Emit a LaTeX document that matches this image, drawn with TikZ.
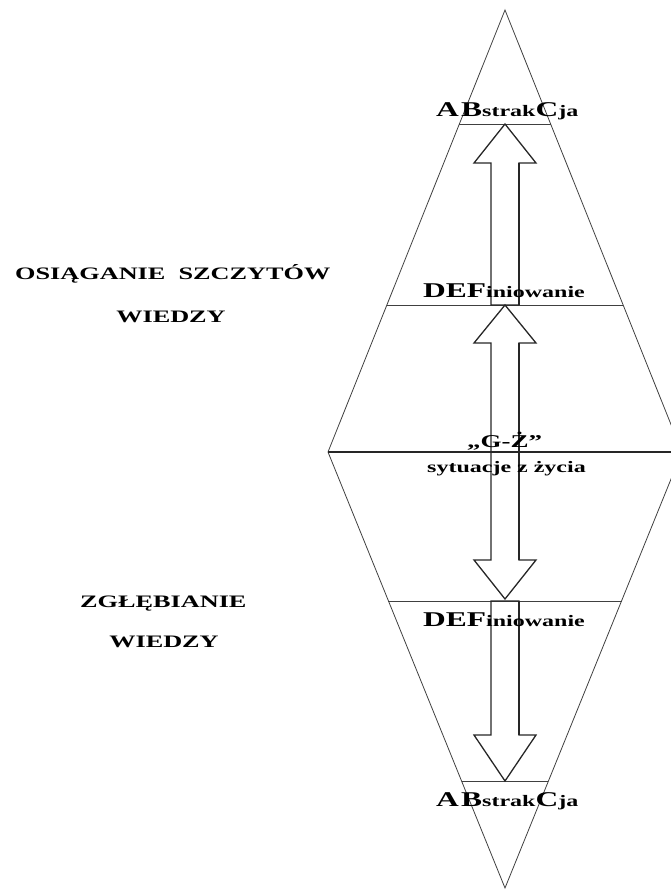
\documentclass[tikz,border=0pt]{standalone}
\usepackage{fontspec}
\setmainfont{Liberation Serif}
\usepackage{graphicx}
\usetikzlibrary{calc}
\newcommand\wide[1]{\scalebox{1.5}[1]{#1}}
\newcommand\fsz[1]{\fontsize{#1}{#1}\selectfont}
\newcommand\abst{\fsz{21}A\kern1.5pt B\fsz{16}strak\fsz{21}C\fsz{16}ja}
\newcommand\defi{\fsz{21}DEF\fsz{16}iniowanie}
\begin{document}
\begin{tikzpicture}[x=1pt,y=-1pt,
  lbl/.style={inner sep=0pt, anchor=base west, font=\bfseries},
  rim/.style={line width=0.8pt, draw=black!75},
  midline/.style={line width=1.6pt, draw=black!85},
  bigarrow/.style={line width=1.3pt, draw=black!85, line join=miter},
  shade/.style={line width=1.9pt, draw=black!85}]
\useasboundingbox (0,0) rectangle (671,892);
\begin{scope}
\clip (0,0) rectangle (671,892);
\coordinate (T) at (505,10);
\coordinate (L) at (328,452);
\coordinate (B) at (505,888);
\coordinate (R) at (682,452);
\draw[rim] (T) -- (R) -- (B) -- (L) -- cycle;
\draw[rim] ($(T)!0.2579!(L)$) -- ($(T)!0.2579!(R)$);
\draw[rim] ($(T)!0.6674!(L)$) -- ($(T)!0.6674!(R)$);
\draw[midline] (L) -- (R);
\draw[rim] ($(B)!0.6583!(L)$) -- ($(B)!0.6583!(R)$);
\draw[rim] ($(B)!0.2454!(L)$) -- ($(B)!0.2454!(R)$);
\end{scope}
% upper arrow (up)
\draw[bigarrow] (505,124) -- (536,163) -- (519,163) -- (519,305) -- (491,305) -- (491,163) -- (474,163) -- cycle;
\draw[shade] (519,163) -- (519,305);
% middle double arrow
\draw[bigarrow] (505,305) -- (536,343) -- (519,343) -- (519,560) -- (536,560) -- (505,599)
  -- (474,560) -- (491,560) -- (491,343) -- (474,343) -- cycle;
\draw[shade] (519,343) -- (519,560);
% lower arrow (down)
\draw[bigarrow] (491,601) -- (519,601) -- (519,735) -- (536,735) -- (505,781) -- (474,735) -- (491,735) -- cycle;
\draw[shade] (519,601) -- (519,735);
% labels in the diamond
\node[lbl] (abs1) at (436,116) {\wide{\abst}};
\node[lbl] (def1) at (423,297) {\wide{\defi}};
\node[lbl] (gz) at (467,447) {\wide{\fsz{18}„G-Ż”}};
\node[lbl] (syt) at (427,472) {\wide{\fsz{16}sytuacje z życia}};
\node[lbl] (def2) at (423,626) {\wide{\defi}};
\node[lbl] (abs2) at (436,806) {\wide{\abst}};
% left labels
\node[lbl] (osi) at (15,279) {\wide{\fsz{17.5}OSIĄGANIE\ \ SZCZYTÓW}};
\node[lbl, anchor=base] (wie1) at (171,322) {\wide{\fsz{17.5}WIEDZY}};
\node[lbl] (zgl) at (80,607) {\wide{\fsz{17.5}ZGŁĘBIANIE}};
\node[lbl, anchor=base] (wie2) at (164,647) {\wide{\fsz{17.5}WIEDZY}};
\end{tikzpicture}
\end{document}
